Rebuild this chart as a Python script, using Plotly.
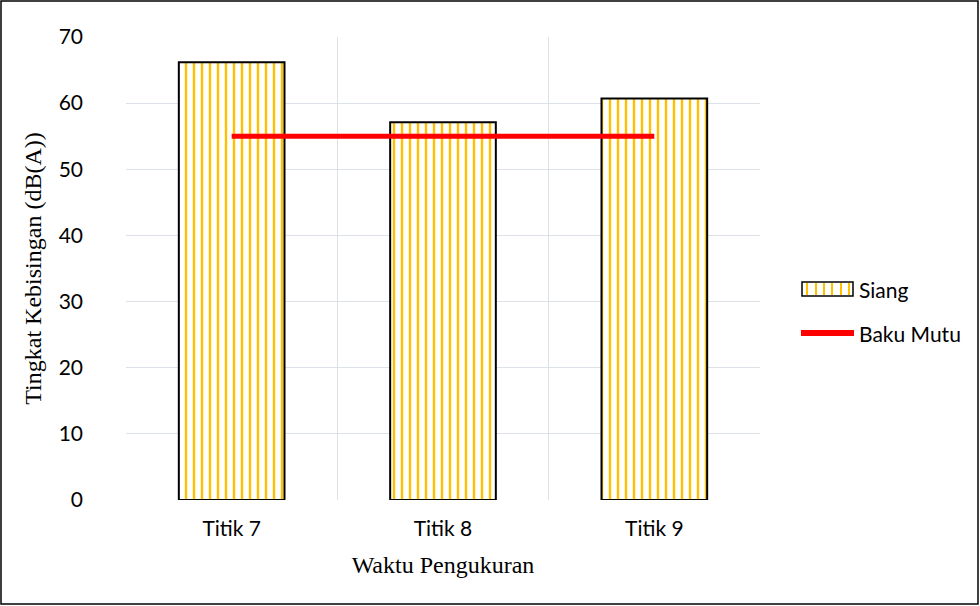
import plotly.graph_objects as go

categories = ["Titik 7", "Titik 8", "Titik 9"]
siang = [66.2, 57.1, 60.7]
baku_mutu = [55, 55, 55]
y_ticks = [0, 10, 20, 30, 40, 50, 60, 70]

xpos = list(range(len(categories)))

W, H = 980, 606
L, R, T, B = 126, 220, 37, 106
pw, ph = W - L - R, H - T - B


def xp(px):
    return (px - L) / pw


def yp(py):
    return (H - B - py) / ph


SANS = "Lato, Open Sans, sans-serif"
SERIF = "Liberation Serif, Times New Roman, serif"
ORANGE = "#FFC000"

fig = go.Figure()
fig.add_trace(go.Bar(
    x=xpos, y=siang, name="Siang", width=0.5, showlegend=False,
    marker=dict(color="white", line=dict(color="black", width=2),
                pattern=dict(shape="|", fgcolor=ORANGE, bgcolor="white",
                             size=8, solidity=0.3, fgopacity=1, fillmode="replace")),
))
fig.add_trace(go.Scatter(
    x=xpos, y=baku_mutu, name="Baku Mutu", mode="lines", showlegend=False,
    line=dict(color="#FF0000", width=5),
))

shapes = []
# outer border
shapes.append(dict(type="rect", xref="paper", yref="paper",
                   x0=xp(1), x1=xp(W - 2), y0=yp(H - 2), y1=yp(1),
                   line=dict(color="black", width=1.5), fillcolor="rgba(0,0,0,0)",
                   layer="above"))
# legend: Siang swatch
shapes.append(dict(type="rect", xref="paper", yref="paper",
                   x0=xp(802), x1=xp(853), y0=yp(296), y1=yp(282),
                   line=dict(color="black", width=1.5), fillcolor="white"))
for sx in [807, 816, 824, 832, 841, 849]:
    shapes.append(dict(type="line", xref="paper", yref="paper",
                       x0=xp(sx), x1=xp(sx), y0=yp(295), y1=yp(283),
                       line=dict(color=ORANGE, width=2)))
# legend: Baku Mutu line
shapes.append(dict(type="line", xref="paper", yref="paper",
                   x0=xp(801), x1=xp(854), y0=yp(333), y1=yp(333),
                   line=dict(color="#FF0000", width=6)))

annotations = [
    dict(text="Siang", xref="paper", yref="paper", x=xp(857), y=yp(289),
         xanchor="left", yanchor="middle", showarrow=False,
         font=dict(family=SANS, size=21, color="black")),
    dict(text="Baku Mutu", xref="paper", yref="paper", x=xp(857), y=yp(333),
         xanchor="left", yanchor="middle", showarrow=False,
         font=dict(family=SANS, size=21, color="black")),
]

fig.update_layout(
    width=W, height=H,
    margin=dict(l=L, r=R, t=T, b=B, autoexpand=False),
    paper_bgcolor="white", plot_bgcolor="white",
    font=dict(family=SANS, size=21, color="black"),
    showlegend=False,
    xaxis=dict(range=[-0.5, 2.5], tickvals=xpos, ticktext=categories,
               showgrid=False, zeroline=False, showline=False, ticks="",
               automargin=False, ticklabelstandoff=14,
               tickfont=dict(family=SANS, size=21),
               minor=dict(tickvals=[-0.5, 0.5, 1.5, 2.5], showgrid=True,
                          gridcolor="#DDE1E8", gridwidth=1),
               title=dict(text="Waktu Pengukuran", standoff=17,
                          font=dict(family=SERIF, size=24))),
    yaxis=dict(range=[0, 70], tickvals=y_ticks, showgrid=True, gridcolor="#DDE1E8",
               gridwidth=1, zeroline=False, showline=False, ticks="",
               automargin=False, ticklabelstandoff=42,
               tickfont=dict(family=SANS, size=21),
               title=dict(text="Tingkat Kebisingan (dB(A))", standoff=10,
                          font=dict(family=SERIF, size=24))),
    shapes=shapes,
    annotations=annotations,
)

fig.write_html("out.html", config={"displayModeBar": False},
               post_script="document.body.style.margin='0';document.body.style.overflow='hidden';")
